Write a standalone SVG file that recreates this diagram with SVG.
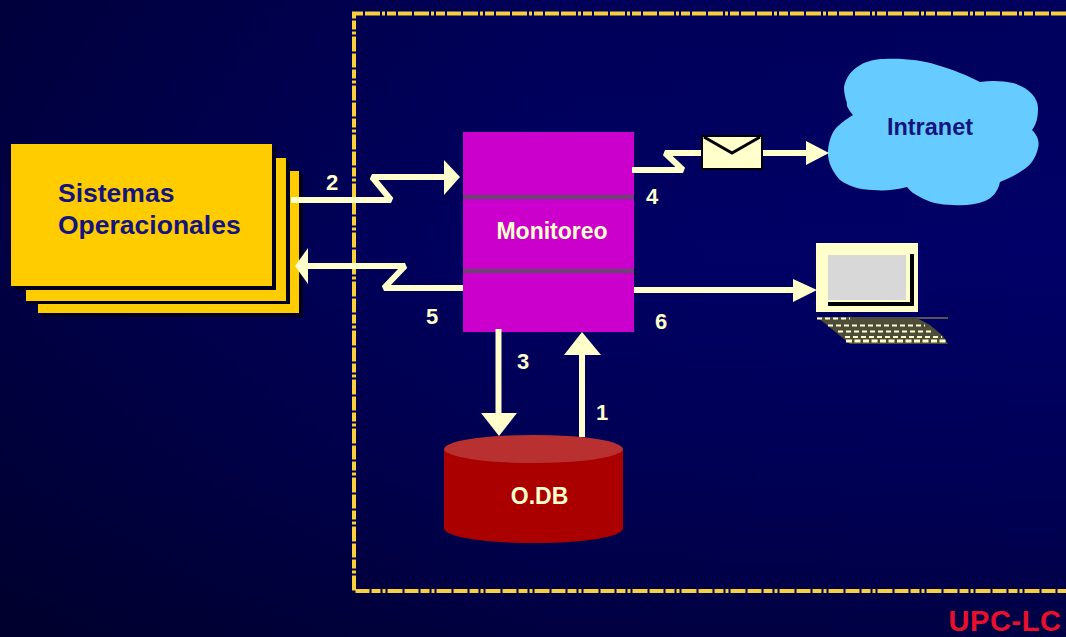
<svg xmlns="http://www.w3.org/2000/svg" width="1066" height="637" viewBox="0 0 1066 637">
<style>
.t{font-family:"Liberation Sans",Arial,sans-serif;font-weight:700}
.n{font-size:22px;fill:#ffffcc}
.line{fill:none;stroke:#ffffcc;stroke-width:6;stroke-miterlimit:2}
.head{fill:#ffffcc}
.card{fill:#ffcc00}
.shadow{fill:#000020}
.keys{fill:none;stroke:#ffffcc;stroke-width:2;stroke-dasharray:5 3}
</style>
<defs>
<linearGradient id="bg" x1="0" y1="0" x2="0" y2="1">
<stop offset="0" stop-color="#00005c"/><stop offset="0.4" stop-color="#000068"/><stop offset="0.75" stop-color="#000056"/><stop offset="1" stop-color="#000044"/>
</linearGradient>
<linearGradient id="side" x1="0" y1="0" x2="1" y2="0">
<stop offset="0" stop-color="#000" stop-opacity="0.35"/><stop offset="0.5" stop-color="#000" stop-opacity="0.05"/><stop offset="1" stop-color="#000" stop-opacity="0"/>
</linearGradient>
</defs>
<rect width="1066" height="637" fill="url(#bg)"/>
<rect width="1066" height="637" fill="url(#side)"/>
<path d="M1066 13.500H354V591H1066" fill="none" stroke="#f8cf3c" stroke-width="4" stroke-dasharray="15 2 14 2 9 2 3 2"/>
<g id="sistemas">
<rect class="shadow" x="42" y="174" width="261" height="143"/>
<rect class="card" x="38" y="171" width="261" height="142"/>
<rect class="shadow" x="29" y="161" width="261" height="143"/>
<rect class="card" x="26" y="158" width="260" height="143"/>
<rect class="shadow" x="15" y="147" width="261" height="143"/>
<rect class="card" x="11" y="144" width="261" height="142"/>
<text class="t" x="58" y="202" font-size="26.500" fill="#14147e">Sistemas</text>
<text class="t" x="58" y="234" font-size="26.500" fill="#14147e">Operacionales</text>
</g>
<g id="monitoreo">
<rect x="463" y="132" width="171" height="200" fill="#cc00cc"/>
<rect x="463" y="195" width="171" height="4" fill="#66486e"/>
<rect x="463" y="269" width="171" height="4" fill="#66486e"/>
<text class="t" x="552" y="239" font-size="23" fill="#ffffcc" text-anchor="middle">Monitoreo</text>
</g>
<g id="intranet">
<path d="M844 87C848 68 866 59 884 59C902 58 922 60 937 65C955 70 968 76 980 82C992 80 1004 81 1013 83C1028 87 1038 97 1038 108C1038 118 1036 125 1032 130C1037 135 1040 141 1038 148C1036 158 1030 166 1023 170C1016 175 1008 179 1000 182C998 192 992 198 985 201C975 205 963 206 953 205C940 205 928 202 920 197C914 194 910 191 907 187C896 190 884 191 873 190C860 190 848 186 840 180C832 172 827 160 828 150C829 140 832 132 837 127C842 122 848 118 853 115C849 110 846 106 847 103C845 98 844 92 844 87Z" fill="#66ccff"/>
<text class="t" x="930" y="135" font-size="23.500" fill="#14147e" text-anchor="middle">Intranet</text>
</g>
<g id="terminal">
<rect x="816" y="243" width="102" height="69" fill="#ffffcc"/>
<rect x="828" y="255" width="78" height="45" fill="#d8d8d8"/>
<path d="M828 304H912V254" fill="none" stroke="#000" stroke-width="4"/>
<path d="M824 318H948" stroke="#555" stroke-width="2"/>
<path d="M817 317H915L930 325L943 336L948 344H850Z" fill="#4c4c38"/>
<path class="keys" d="M817 318.500H850M828 325.500H925M838 331.500H932M845 337H942"/>
<path d="M846 341H948" fill="none" stroke="#ffffcc" stroke-width="3" stroke-dasharray="6 2.500"/>
</g>
<g id="odb">
<path d="M444 449V528C444 537 484 543 534 543S623 537 623 528V449Z" fill="#aa0000"/>
<ellipse cx="533.500" cy="449" rx="89.500" ry="14" fill="#b83030"/>
<text class="t" x="539.500" y="504" font-size="23" fill="#ffffcc" text-anchor="middle">O.DB</text>
</g>
<g id="connectors">
<path class="line" d="M291 200H391L372 177H445"/>
<path class="head" d="M444 160L460 177L444 195Z"/>
<path class="line" d="M463 288H384L405 266H307"/>
<path class="head" d="M308 248L295 266L308 284Z"/>
<path class="line" d="M632 170H683L665 153H702"/>
<path class="line" d="M763 153H808"/>
<path class="head" d="M806 141L829 153L806 165Z"/>
<path class="line" d="M634 290H796"/>
<path class="head" d="M793 279L817 290L793 302Z"/>
<path class="line" d="M498.500 329V414"/>
<path class="head" d="M481 413H517L499 436Z"/>
<path class="line" d="M582 437V352"/>
<path class="head" d="M564 355H601L582 332Z"/>
</g>
<g id="envelope">
<rect x="702" y="136" width="60" height="33" fill="#ffffcc" stroke="#000" stroke-width="2"/>
<path d="M704 137L732 153L760 137" fill="none" stroke="#000" stroke-width="3"/>
</g>
<g id="labels">
<text class="t n" x="332" y="190" text-anchor="middle">2</text>
<text class="t n" x="652" y="204" text-anchor="middle">4</text>
<text class="t n" x="432" y="324" text-anchor="middle">5</text>
<text class="t n" x="661" y="329" text-anchor="middle">6</text>
<text class="t n" x="523" y="369" text-anchor="middle">3</text>
<text class="t n" x="602" y="420" text-anchor="middle">1</text>
<text class="t" x="1005" y="631" font-size="29" letter-spacing="0.600" fill="#e8102a" text-anchor="middle">UPC-LC</text>
</g>
</svg>
